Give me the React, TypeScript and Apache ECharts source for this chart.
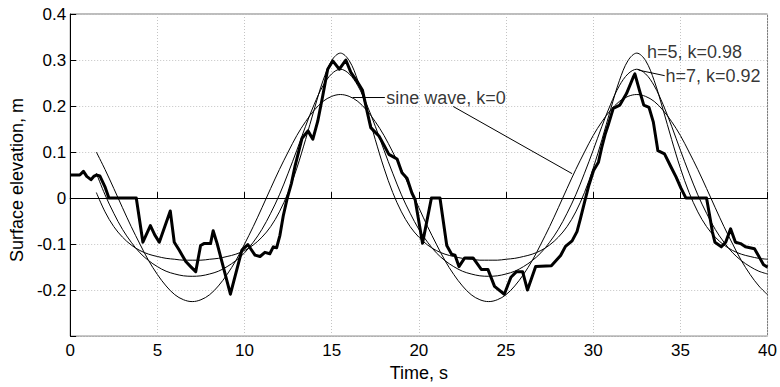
import React, { useEffect, useRef } from "react";
import * as echarts from "echarts";

// ---- data ----
const modelTime = [
  1.5, 2, 2.5, 3, 3.5, 4, 4.5, 5, 5.5, 6, 6.5, 7,
  7.5, 8, 8.5, 9, 9.5, 10, 10.5, 11, 11.5, 12, 12.5, 13, 13.5, 14, 14.5, 15, 15.5,
  16, 16.5, 17, 17.5, 18, 18.5, 19, 19.5, 20, 20.5, 21, 21.5, 22, 22.5, 23, 23.5, 24,
  24.5, 25, 25.5, 26, 26.5, 27, 27.5, 28, 28.5, 29, 29.5, 30, 30.5, 31, 31.5, 32, 32.5,
  33, 33.5, 34, 34.5, 35, 35.5, 36, 36.5, 37, 37.5, 38, 38.5, 39, 39.5, 40,
];

const elevK098 = [
  0.012, -0.030, -0.062, -0.085, -0.102, -0.114, -0.122, -0.127, -0.131, -0.133, -0.135, -0.135,
  -0.135, -0.133, -0.131, -0.127, -0.122, -0.114, -0.102, -0.085, -0.062, -0.030, 0.012, 0.065, 0.127, 0.193, 0.255, 0.299, 0.315,
  0.299, 0.255, 0.193, 0.127, 0.065, 0.012, -0.030, -0.062, -0.085, -0.102, -0.114, -0.122, -0.127, -0.131, -0.133, -0.135, -0.135,
  -0.135, -0.133, -0.131, -0.127, -0.122, -0.114, -0.102, -0.085, -0.062, -0.030, 0.012, 0.065, 0.127, 0.193, 0.255, 0.299, 0.315,
  0.299, 0.255, 0.193, 0.127, 0.065, 0.012, -0.030, -0.062, -0.085, -0.102, -0.114, -0.122, -0.127, -0.131, -0.133,
];

const elevK092 = [
  0.054, 0.007, -0.033, -0.068, -0.096, -0.119, -0.136, -0.149, -0.159, -0.165, -0.169, -0.170,
  -0.169, -0.165, -0.159, -0.149, -0.136, -0.119, -0.096, -0.068, -0.033, 0.007, 0.054, 0.104, 0.156, 0.204, 0.244, 0.270, 0.280,
  0.270, 0.244, 0.204, 0.156, 0.104, 0.054, 0.007, -0.033, -0.068, -0.096, -0.119, -0.136, -0.149, -0.159, -0.165, -0.169, -0.170,
  -0.169, -0.165, -0.159, -0.149, -0.136, -0.119, -0.096, -0.068, -0.033, 0.007, 0.054, 0.104, 0.156, 0.204, 0.244, 0.270, 0.280,
  0.270, 0.244, 0.204, 0.156, 0.104, 0.054, 0.007, -0.033, -0.068, -0.096, -0.119, -0.136, -0.149, -0.159, -0.165,
];

const elevSine = [
  0.100, 0.062, 0.021, -0.021, -0.062, -0.100, -0.136, -0.166, -0.191, -0.210, -0.221, -0.225,
  -0.221, -0.210, -0.191, -0.166, -0.136, -0.100, -0.062, -0.021, 0.021, 0.062, 0.100, 0.136, 0.166, 0.191, 0.210, 0.221, 0.225,
  0.221, 0.210, 0.191, 0.166, 0.136, 0.100, 0.062, 0.021, -0.021, -0.062, -0.100, -0.136, -0.166, -0.191, -0.210, -0.221, -0.225,
  -0.221, -0.210, -0.191, -0.166, -0.136, -0.100, -0.062, -0.021, 0.021, 0.062, 0.100, 0.136, 0.166, 0.191, 0.210, 0.221, 0.225,
  0.221, 0.210, 0.191, 0.166, 0.136, 0.100, 0.062, 0.021, -0.021, -0.062, -0.100, -0.136, -0.166, -0.191, -0.210,
];

const measuredTime = [
  0, 0.55, 0.76, 0.95, 1.19, 1.35, 1.5, 1.7, 1.99, 2.22, 3.79, 4.17, 4.6, 4.85, 5.11, 5.74, 5.97, 6.25, 6.63, 6.91,
  7.2, 7.48, 7.67, 8.05, 8.2, 8.43, 9.19, 9.85, 10.19, 10.6, 10.89, 11.17, 11.45, 11.65, 11.84, 12.03, 12.22, 12.45,
  12.69, 12.9, 13.3, 13.64, 13.92, 14.2, 14.49, 14.77, 15.06, 15.44, 15.81, 16.1, 16.48, 16.76, 17.05, 17.24, 17.42,
  17.71, 18.0, 18.28, 18.56, 18.75, 19.03, 19.32, 19.6, 19.79, 20.21, 20.72, 21.21, 21.6, 21.88, 22.07, 22.3, 22.63,
  23.11, 23.58, 23.96, 24.34, 24.9, 25.28, 25.6, 25.95, 26.23, 26.7, 27.6, 28.13, 28.41, 28.79, 29.07, 29.26, 29.55,
  29.73, 30.02, 30.3, 30.49, 30.68, 30.87, 31.15, 31.53, 31.91, 32.29, 32.39, 32.67, 32.9, 33.2, 33.45, 33.71, 34.09,
  34.47, 34.75, 35.04, 35.32, 36.5, 36.65, 36.84, 36.98, 37.35, 37.6, 37.88, 38.16, 38.45, 38.73, 39.25, 39.55,
  39.77, 40.0,
];

const measuredElev = [
  0.050, 0.050, 0.058, 0.047, 0.040, 0.047, 0.050, 0.048, 0.025, 0.0, 0.0, -0.096, -0.060, -0.080, -0.096, -0.028,
  -0.096, -0.113, -0.138, -0.149,
  -0.160, -0.103, -0.099, -0.099, -0.071, -0.099, -0.209, -0.113, -0.101, -0.124, -0.127, -0.118, -0.121, -0.106,
  -0.108, -0.081, -0.039, 0.0,
  0.032, 0.070, 0.130, 0.146, 0.128, 0.167, 0.223, 0.280, 0.298, 0.280, 0.300, 0.273, 0.252, 0.235, 0.185, 0.153,
  0.146,
  0.135, 0.115, 0.095, 0.089, 0.085, 0.055, 0.043, 0.011, -0.004, -0.098, 0.0, 0.0, -0.103, -0.122, -0.124, -0.149,
  -0.130,
  -0.130, -0.155, -0.155, -0.192, -0.209, -0.172, -0.160, -0.160, -0.200, -0.149, -0.147, -0.125, -0.105, -0.093,
  -0.073, -0.046, -0.002,
  0.025, 0.060, 0.078, 0.110, 0.138, 0.160, 0.195, 0.202, 0.227, 0.262, 0.270, 0.232, 0.202, 0.197, 0.165, 0.103,
  0.096,
  0.067, 0.046, 0.021, 0.0, 0.0, -0.032, -0.074, -0.096, -0.106, -0.096, -0.067, -0.096, -0.099, -0.106, -0.110,
  -0.130,
  -0.145, -0.150,
];

// annotation leader lines (data coordinates)
const sineLeaderTime = [16.2, 18.05];
const sineLeaderElev = [0.2185, 0.2185];
const sinePointerTime = [21.97, 28.79];
const sinePointerElev = [0.199, 0.053];
const k092LeaderTime = [32.6, 34.1];
const k092LeaderElev = [0.278, 0.266];

const annotationText = ["sine wave, k=0", "h=5, k=0.98", "h=7, k=0.92"];
const annotationTime = [18.1, 33.05, 34.12];
const annotationElev = [0.2185, 0.317, 0.266];

const FONT = "'Liberation Sans', Arial, Helvetica, sans-serif";

const zip = (xs: number[], ys: number[]) => xs.map((x, i) => [x, ys[i]]);

export default function App() {
  const ref = useRef<HTMLDivElement>(null);

  useEffect(() => {
    document.body.style.margin = "0";
    if (!ref.current) return;
    const chart = echarts.init(ref.current, undefined, { renderer: "svg" });

    const thin = (name: string, xs: number[], ys: number[], smooth: boolean) => ({
      name,
      type: "line",
      data: zip(xs, ys),
      showSymbol: false,
      smooth: smooth ? 0.35 : false,
      lineStyle: { color: "#000", width: 1 },
      z: 3,
      silent: true,
    });

    chart.setOption({
      animation: false,
      backgroundColor: "#fff",
      textStyle: { fontFamily: FONT },
      grid: {
        left: 65,
        right: 11,
        top: 14,
        bottom: 44,
        show: true,
        borderColor: "#7a7a7a",
        borderWidth: 1,
        containLabel: false,
      },
      xAxis: {
        type: "value",
        min: 0,
        max: 40,
        interval: 5,
        name: "Time, s",
        nameLocation: "middle",
        nameGap: 23,
        nameTextStyle: { fontSize: 18, color: "#000", fontFamily: FONT },
        axisLine: { show: true, lineStyle: { color: "#000", width: 1 } },
        axisTick: { show: true, inside: true, length: 6, lineStyle: { color: "#000" } },
        axisLabel: { fontSize: 17, color: "#000", margin: 6, fontFamily: FONT },
        splitLine: { show: true, lineStyle: { color: "#c4c4c4", type: [1, 2], width: 1 } },
      },
      yAxis: {
        type: "value",
        min: -0.3,
        max: 0.4,
        interval: 0.1,
        name: "Surface elevation, m",
        nameLocation: "middle",
        nameGap: 36,
        nameTextStyle: { fontSize: 18, color: "#000", fontFamily: FONT, padding: [0, 10, 0, 0] },
        axisLine: { show: true, lineStyle: { color: "#000", width: 1 } },
        axisTick: { show: true, inside: true, length: 6, lineStyle: { color: "#000" } },
        axisLabel: {
          fontSize: 17,
          color: "#000",
          margin: 4,
          fontFamily: FONT,
          formatter: (v: number) => {
            if (Math.abs(v + 0.3) < 1e-6) return "";
            if (Math.abs(v) < 1e-6) return "0";
            return v.toFixed(1);
          },
        },
        splitLine: { show: true, lineStyle: { color: "#c4c4c4", type: [1, 2], width: 1 } },
      },
      series: [
        {
          name: "measured",
          type: "line",
          data: zip(measuredTime, measuredElev),
          showSymbol: false,
          lineStyle: { color: "#000", width: 3, join: "round" },
          z: 5,
          silent: true,
          markLine: {
            silent: true,
            symbol: ["none", "none"],
            label: { show: false },
            lineStyle: { color: "#000", type: [4, 3], width: 1 },
            data: [{ yAxis: 0 }],
            z: 2,
          },
        },
        thin("h=5, k=0.98", modelTime, elevK098, true),
        thin("h=7, k=0.92", modelTime, elevK092, true),
        thin("sine wave, k=0", modelTime, elevSine, true),
        thin("leader1", sineLeaderTime, sineLeaderElev, false),
        thin("leader2", sinePointerTime, sinePointerElev, false),
        thin("leader3", k092LeaderTime, k092LeaderElev, false),
        {
          name: "labels",
          type: "scatter",
          symbolSize: 1,
          itemStyle: { color: "rgba(0,0,0,0)" },
          silent: true,
          z: 6,
          data: annotationText.map((t, i) => ({
            name: t,
            value: [annotationTime[i], annotationElev[i]],
          })),
          label: {
            show: true,
            position: "right",
            distance: 0,
            formatter: "{b}",
            fontSize: 18,
            color: "#000",
            fontFamily: FONT,
          },
        },
      ],
    });

    return () => chart.dispose();
  }, []);

  return (
    <div
      ref={ref}
      style={{ position: "absolute", left: 0, top: 0, width: 780, height: 387, background: "#fff" }}
    />
  );
}
